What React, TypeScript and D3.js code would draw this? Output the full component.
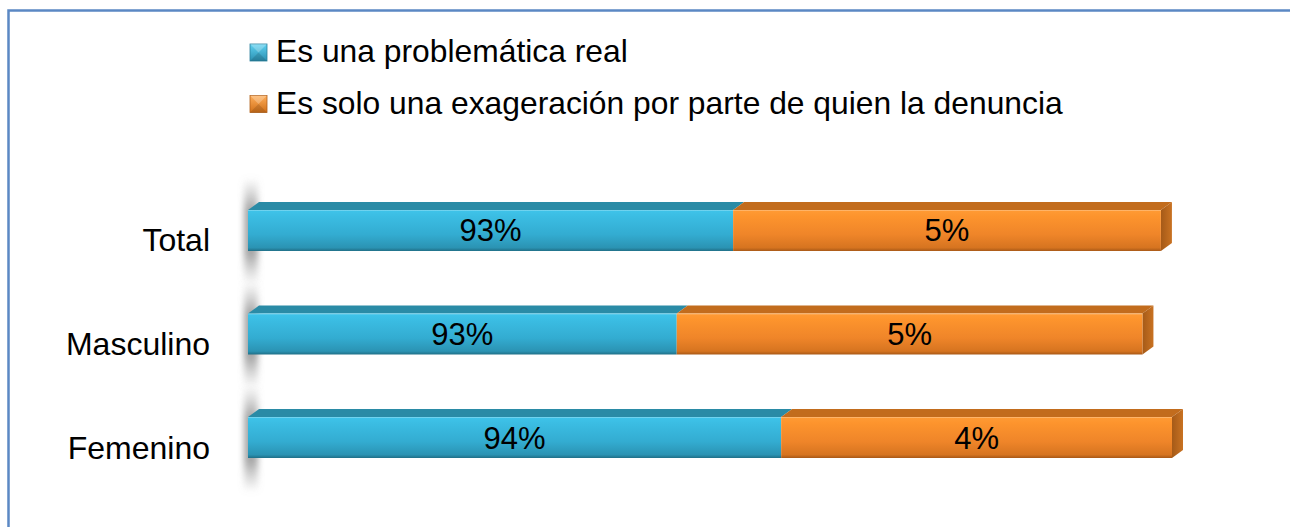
import React from "react";
import * as d3 from "d3";

const categories = ["Total", "Masculino", "Femenino"];
const seriesNames = ["Es una problemática real", "Es solo una exageración por parte de quien la denuncia"];
// drawn segment lengths (in chart units 0-100)
const realLength = [52.5, 46.4, 57.7];
const exagLength = [46.3, 50.4, 42.3];
// printed data labels
const realLabels = ["93%", "93%", "94%"];
const exagLabels = ["5%", "5%", "4%"];

const W = 1290;
const H = 527;
const FONT = "'Liberation Sans', Arial, sans-serif";
const DX = 11;
const DY = 8;

export default function App() {
  const x = d3.scaleLinear().domain([0, 100]).range([248, 1172]);
  const y = d3.scaleBand().domain(categories).range([158.25, 509.75]).paddingInner(0.604).paddingOuter(0.5);
  const bh = y.bandwidth();

  const stacks = categories.map((c, i) => {
    const a0 = 0, a1 = realLength[i], b1 = a1 + exagLength[i];
    return [
      { key: "real", x0: x(a0), x1: x(a1), label: realLabels[i], grad: "gBlue", top: "#2a8ba6" },
      { key: "exag", x0: x(a1), x1: x(b1), label: exagLabels[i], grad: "gOrange", top: "#c26c1d" },
    ];
  });

  return (
    <svg width={W} height={H} style={{ position: "absolute", left: 0, top: 0, background: "#fff" }} fontFamily={FONT}>
      <defs>
        <linearGradient id="gBlue" x1="0" y1="0" x2="0" y2="1">
          <stop offset="0" stopColor="#3fc4ea" />
          <stop offset="0.15" stopColor="#3bbde3" />
          <stop offset="0.6" stopColor="#33acd1" />
          <stop offset="0.92" stopColor="#2b93b3" />
          <stop offset="1" stopColor="#1f6f87" />
        </linearGradient>
        <linearGradient id="gOrange" x1="0" y1="0" x2="0" y2="1">
          <stop offset="0" stopColor="#ff9b35" />
          <stop offset="0.15" stopColor="#fd942d" />
          <stop offset="0.6" stopColor="#ef8529" />
          <stop offset="0.92" stopColor="#d67420" />
          <stop offset="1" stopColor="#a85816" />
        </linearGradient>
        <linearGradient id="gOrangeSide" x1="0" y1="0" x2="1" y2="0">
          <stop offset="0" stopColor="#a55a18" />
          <stop offset="1" stopColor="#c97222" />
        </linearGradient>
        <linearGradient id="gShadow" x1="0" y1="0" x2="0" y2="1">
          <stop offset="0" stopColor="#999" stopOpacity="0" />
          <stop offset="0.3" stopColor="#888" stopOpacity="0.75" />
          <stop offset="0.7" stopColor="#888" stopOpacity="0.75" />
          <stop offset="1" stopColor="#999" stopOpacity="0" />
        </linearGradient>
        <filter id="blur" x="-50%" y="-50%" width="200%" height="200%">
          <feGaussianBlur stdDeviation="3" />
        </filter>
        <linearGradient id="mBlue" x1="0" y1="0" x2="0" y2="1">
          <stop offset="0" stopColor="#5fd2f2" />
          <stop offset="1" stopColor="#2a8fb0" />
        </linearGradient>
        <linearGradient id="mOrange" x1="0" y1="0" x2="0" y2="1">
          <stop offset="0" stopColor="#ffae5a" />
          <stop offset="1" stopColor="#d07019" />
        </linearGradient>
      </defs>

      {/* chart frame */}
      <rect x={8.5} y={10.5} width={W + 20} height={H + 20} fill="none" stroke="#5b88c4" strokeWidth={2.5} />

      {/* legend */}
      {seriesNames.map((s, i) => {
        const ly = 44 + i * 51.5;
        const fill = i === 0 ? "url(#mBlue)" : "url(#mOrange)";
        const dark = i === 0 ? "#2a7f9c" : "#b1601a";
        return (
          <g key={s}>
            <rect x={250} y={ly} width={17} height={17} fill={fill} stroke={dark} strokeWidth={0.8} />
            <path d={`M250,${ly} L267,${ly} L258.5,${ly + 8.5} Z`} fill="#ffffff" opacity={0.25} />
            <path d={`M250,${ly + 17} L267,${ly + 17} L258.5,${ly + 8.5} Z`} fill="#000" opacity={0.12} />
            <text x={276} y={ly + 18} fontSize={31.8} fill="#000">{s}</text>
          </g>
        );
      })}

      {/* bars */}
      {categories.map((c, i) => {
        const top = y(c)!;
        const bot = top + bh;
        const segs = stacks[i];
        const right = segs[segs.length - 1].x1;
        const left = segs[0].x0;
        return (
          <g key={c}>
            <rect x={left - 4} y={top - 32} width={14} height={bh + 66} fill="url(#gShadow)" filter="url(#blur)" />
            {segs.map((s) => (
              <path key={s.key + "t"}
                d={`M${s.x0},${top} L${s.x0 + DX},${top - DY} L${s.x1 + DX},${top - DY} L${s.x1},${top} Z`}
                fill={s.top} />
            ))}
            <path d={`M${right},${top} L${right + DX},${top - DY} L${right + DX},${bot - DY} L${right},${bot} Z`}
              fill="url(#gOrangeSide)" />
            {segs.map((s) => (
              <rect key={s.key + "f"} x={s.x0} y={top} width={s.x1 - s.x0} height={bh} fill={`url(#${s.grad})`} />
            ))}
            <line x1={left} x2={right} y1={top + 0.5} y2={top + 0.5} stroke="#fff" strokeOpacity={0.25} />
            {segs.map((s) => (
              <text key={s.key + "l"} x={(s.x0 + s.x1) / 2} y={top + bh / 2 + 11} textAnchor="middle" fontSize={31} fill="#000">
                {s.label}
              </text>
            ))}
            <text x={210} y={top + bh / 2 + 21} textAnchor="end" fontSize={32} fill="#000">{c}</text>
          </g>
        );
      })}
    </svg>
  );
}
